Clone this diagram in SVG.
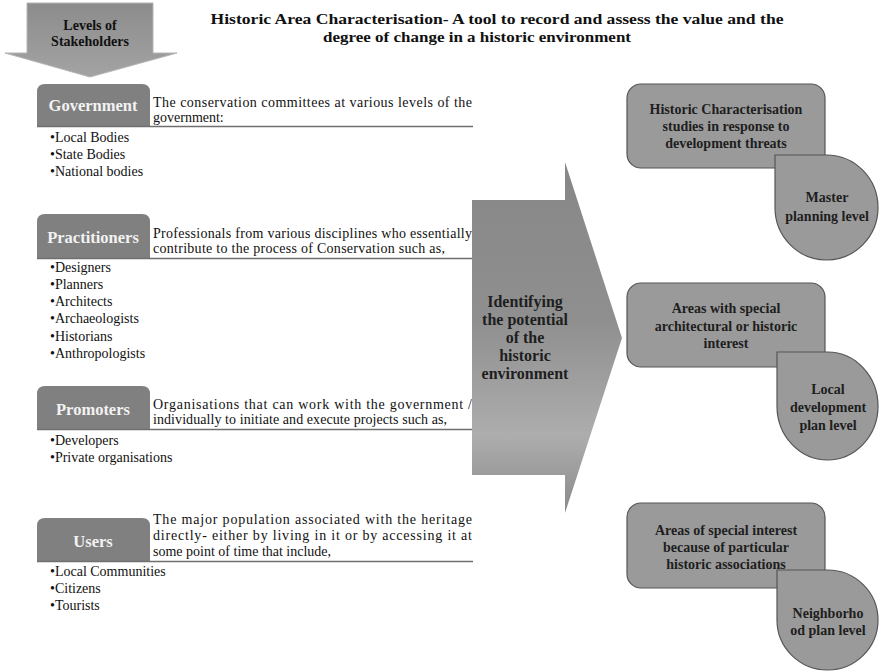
<svg xmlns="http://www.w3.org/2000/svg" width="879" height="671" viewBox="0 0 879 671">
<defs>
<linearGradient id="gBig" x1="0" y1="0" x2="0" y2="1">
<stop offset="0" stop-color="#878787"/>
<stop offset="0.45" stop-color="#8f8f8f"/>
<stop offset="0.78" stop-color="#adadad"/>
<stop offset="1" stop-color="#8a8a8a"/>
</linearGradient>
<linearGradient id="gTop" x1="0" y1="0" x2="0" y2="1">
<stop offset="0" stop-color="#8c8c8c"/>
<stop offset="1" stop-color="#a3a3a3"/>
</linearGradient>
<style>
text{font-family:"Liberation Serif","Times New Roman",serif;fill:#111}
.b{font-weight:bold}
.tab{fill:#808080}
.tabt{font-weight:bold;font-size:16.5px;fill:#f2f2f2;text-anchor:middle}
.d{font-size:14px}
.li{font-size:14px}
.ul{stroke:#6f6f6f;stroke-width:1.5}
.box{fill:#9a9a9a;stroke:#555;stroke-width:1.2}
.bt{font-weight:bold;font-size:14px;text-anchor:middle;fill:#1e1e1e}
.at{font-weight:bold;font-size:16px;text-anchor:middle;fill:#1e1e1e}
.c{text-anchor:middle}
</style>
</defs>
<rect width="879" height="671" fill="#fff"/>

<g id="title">
<text class="b c" x="497" y="24" font-size="14.5" textLength="573" lengthAdjust="spacingAndGlyphs">Historic Area Characterisation-  A tool to record  and  assess the value and  the</text>
<text class="b c" x="477" y="42" font-size="14.5" textLength="308" lengthAdjust="spacingAndGlyphs">degree of change in a historic  environment</text>
</g>

<g id="stakeholders-arrow">
<polygon points="27,3 153,3 153,53 177,53 90,77 5,53 27,53" fill="url(#gTop)" stroke="#b5b5b5" stroke-width="1"/>
<text class="b c" x="90" y="30" font-size="14">Levels of</text>
<text class="b c" x="90" y="46" font-size="14">Stakeholders</text>
</g>

<g id="government">
<path class="tab" d="M37,126 L37,92 Q37,84 45,84 L142,84 Q150,84 150,92 L150,126 Z"/>
<text class="tabt" x="93" y="111">Government</text>
<text class="d" x="153" y="107" textLength="319" lengthAdjust="spacing">The conservation committees at various levels of the</text>
<text class="d" x="153" y="122">government:</text>
<line class="ul" x1="37" y1="126.5" x2="473" y2="126.5"/>
<text class="li" x="50" y="142">•Local Bodies</text>
<text class="li" x="50" y="159">•State Bodies</text>
<text class="li" x="50" y="176">•National bodies</text>
</g>

<g id="practitioners">
<path class="tab" d="M37,258 L37,222 Q37,214 45,214 L142,214 Q150,214 150,222 L150,258 Z"/>
<text class="tabt" x="93" y="243">Practitioners</text>
<text class="d" x="153" y="238" textLength="319" lengthAdjust="spacing">Professionals from various disciplines who essentially</text>
<text class="d" x="153" y="253" textLength="292" lengthAdjust="spacing">contribute to the process of Conservation such as,</text>
<line class="ul" x1="37" y1="258.5" x2="473" y2="258.5"/>
<text class="li" x="50" y="272">•Designers</text>
<text class="li" x="50" y="289">•Planners</text>
<text class="li" x="50" y="306">•Architects</text>
<text class="li" x="50" y="323">•Archaeologists</text>
<text class="li" x="50" y="341">•Historians</text>
<text class="li" x="50" y="358">•Anthropologists</text>
</g>

<g id="promoters">
<path class="tab" d="M37,429 L37,394 Q37,386 45,386 L142,386 Q150,386 150,394 L150,429 Z"/>
<text class="tabt" x="93" y="415">Promoters</text>
<text class="d" x="153" y="409" textLength="319" lengthAdjust="spacing">Organisations that can work with the government /</text>
<text class="d" x="153" y="424" textLength="294" lengthAdjust="spacing">individually to initiate and execute projects such as,</text>
<line class="ul" x1="37" y1="429.5" x2="473" y2="429.5"/>
<text class="li" x="50" y="445">•Developers</text>
<text class="li" x="50" y="462">•Private organisations</text>
</g>

<g id="users">
<path class="tab" d="M37,561 L37,526 Q37,518 45,518 L142,518 Q150,518 150,526 L150,561 Z"/>
<text class="tabt" x="93" y="547">Users</text>
<text class="d" x="153" y="524" textLength="319" lengthAdjust="spacing">The major population associated with the heritage</text>
<text class="d" x="153" y="540" textLength="319" lengthAdjust="spacing">directly- either by living in it or by accessing it at</text>
<text class="d" x="153" y="556">some point of time that include,</text>
<line class="ul" x1="37" y1="561.5" x2="473" y2="561.5"/>
<text class="li" x="50" y="576">•Local Communities</text>
<text class="li" x="50" y="593">•Citizens</text>
<text class="li" x="50" y="610">•Tourists</text>
</g>

<g id="connectors">
<polygon points="472,200 565,200 565,162 622,338 565,513 565,475 472,475" fill="url(#gBig)"/>
</g>

<g id="identifying">
<text class="at" x="525" y="307">Identifying</text>
<text class="at" x="525" y="325">the potential</text>
<text class="at" x="525" y="343">of the</text>
<text class="at" x="525" y="361">historic</text>
<text class="at" x="525" y="379">environment</text>
</g>

<g id="box1">
<rect class="box" x="627" y="84" width="198" height="84" rx="14"/>
<text class="bt" x="726" y="114">Historic Characterisation</text>
<text class="bt" x="726" y="131">studies in response to</text>
<text class="bt" x="726" y="148">development  threats</text>
</g>
<g id="drop1">
<path class="box" d="M775,155 L826.5,155 A51.5,52.5 0 0 1 878,207.5 A51.5,52.5 0 0 1 826.5,260 A51.5,52.5 0 0 1 775,207.5 Z"/>
<text class="bt" x="827" y="202">Master</text>
<text class="bt" x="827" y="221">planning level</text>
</g>

<g id="box2">
<rect class="box" x="627" y="283" width="198" height="84" rx="14"/>
<text class="bt" x="726" y="313">Areas with  special</text>
<text class="bt" x="726" y="331">architectural  or historic</text>
<text class="bt" x="726" y="348">interest</text>
</g>
<g id="drop2">
<path class="box" d="M777,352 L827.5,352 A50.5,54 0 0 1 878,406 A50.5,54 0 0 1 827.5,460 A50.5,54 0 0 1 777,406 Z"/>
<text class="bt" x="828" y="394">Local</text>
<text class="bt" x="828" y="412">development</text>
<text class="bt" x="828" y="430">plan  level</text>
</g>

<g id="box3">
<rect class="box" x="627" y="503" width="198" height="85" rx="14"/>
<text class="bt" x="726" y="535">Areas of special interest</text>
<text class="bt" x="726" y="552">because of particular</text>
<text class="bt" x="726" y="569">historic associations</text>
</g>
<g id="drop3">
<path class="box" d="M777,570 L827.5,570 A50.5,50 0 0 1 878,620 A50.5,50 0 0 1 827.5,670 A50.5,50 0 0 1 777,620 Z"/>
<text class="bt" x="828" y="618">Neighborho</text>
<text class="bt" x="828" y="635">od plan  level</text>
</g>
</svg>
